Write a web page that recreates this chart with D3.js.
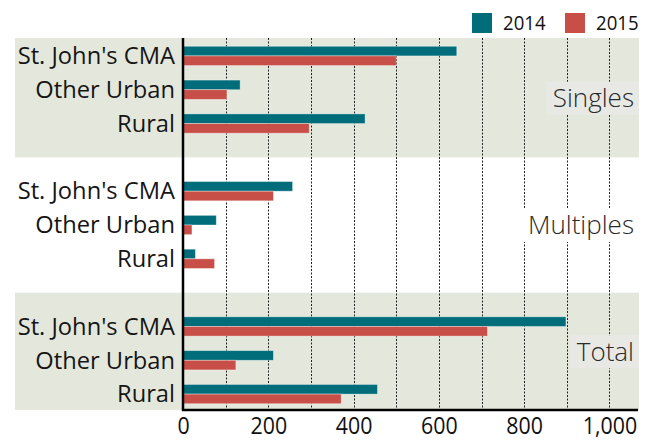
<!DOCTYPE html>
<html><head><meta charset="utf-8">
<script src="https://cdn.jsdelivr.net/npm/d3@7"></script>
<style>
html,body{margin:0;padding:0;background:#fff;}
svg{display:block;font-family:"Open Sans",sans-serif;}
</style></head>
<body>
<svg id="chart" width="655" height="440"></svg>
<script>
const groups = ["Singles", "Multiples", "Total"];
const categories = ["St. John's CMA", "Other Urban", "Rural"];
const years = ["2014", "2015"];
const singles2014 = [642, 134, 427];
const singles2015 = [500, 103, 296];
const multiples2014 = [257, 78, 29];
const multiples2015 = [212, 21, 74];
const total2014 = [898, 212, 456];
const total2015 = [714, 124, 371];
const xTickValues = [0, 200, 400, 600, 800, 1000];
const gridValues = [100, 200, 300, 400, 500, 600, 700, 800, 900, 1000];

const seriesByGroup = {
  "Singles": [singles2014, singles2015],
  "Multiples": [multiples2014, multiples2015],
  "Total": [total2014, total2015]
};
const colors = {"2014": "#016d7b", "2015": "#c84f47"};
const shaded = {"Singles": true, "Multiples": false, "Total": true};

const svg = d3.select("#chart");
const plotLeft = 183, plotRight = 638, plotTop = 39, plotBottom = 411, axisY = 410;

const x = d3.scaleLinear().domain([0, 1067]).range([plotLeft, plotRight]);
const yGroup = d3.scaleBand().domain(groups).range([plotTop, plotBottom]).paddingInner(0.25).paddingOuter(0);
const yCat = d3.scaleBand().domain(categories).range([0, yGroup.bandwidth()]).paddingInner(0.43).paddingOuter(0.215);
const yYear = d3.scaleBand().domain(years).range([0, yCat.bandwidth()]);
const gap = yGroup.step() - yGroup.bandwidth();

function panelExtent(g) {
  let y0 = yGroup(g) - gap / 2, y1 = yGroup(g) + yGroup.bandwidth() + gap / 2;
  y0 = Math.max(y0, plotTop - 1); y1 = Math.min(y1, axisY);
  return [y0, y1];
}
svg.append("g").selectAll("rect").data(groups.filter(g => shaded[g])).join("rect")
  .attr("x", 15).attr("width", plotRight + 1 - 15)
  .attr("y", d => panelExtent(d)[0])
  .attr("height", d => panelExtent(d)[1] - panelExtent(d)[0])
  .attr("fill", "#e4e8dc");

// grid
svg.append("g").selectAll("line").data(gridValues).join("line")
  .attr("x1", d => Math.round(x(d)) + 0.5).attr("x2", d => Math.round(x(d)) + 0.5)
  .attr("y1", plotTop - 1).attr("y2", axisY)
  .attr("stroke", "#222").attr("stroke-width", 1).attr("stroke-dasharray", "2,1.5");

// group labels
const glab = svg.append("g");
groups.forEach(g => {
  let cy;
  if (g === "Multiples") cy = (panelExtent("Singles")[1] + panelExtent("Total")[0]) / 2;
  else { const [y0, y1] = panelExtent(g); cy = (y0 + y1) / 2; }
  const box = glab.append("rect");
  const t = glab.append("text").text(g)
    .attr("x", plotRight - 4).attr("y", cy).attr("dy", "0.36em")
    .attr("text-anchor", "end").attr("font-size", 26).attr("font-weight", 300)
    .attr("fill", "#2a2a2a");
  const w = t.node().getComputedTextLength();
  box.attr("x", plotRight - 4 - w - 6).attr("y", cy - 16).attr("width", w + 11).attr("height", 33)
    .attr("fill", shaded[g] ? "#e8e9e5" : "#fff");
});

// bars
const barG = svg.append("g");
groups.forEach(g => {
  years.forEach((yr, yi) => {
    barG.append("g").selectAll("rect").data(categories).join("rect")
      .attr("x", x(0))
      .attr("y", c => yGroup(g) + yCat(c) + yYear(yr))
      .attr("width", (c, ci) => x(seriesByGroup[g][yi][ci]) - x(0))
      .attr("height", yYear.bandwidth())
      .attr("fill", colors[yr])
      .attr("stroke", "rgba(255,255,255,0.45)").attr("stroke-width", 0.8);
  });
});

// category labels
groups.forEach(g => {
  svg.append("g").selectAll("text").data(categories).join("text")
    .text(d => d)
    .attr("x", 175)
    .attr("y", d => yGroup(g) + yCat(d) + yCat.bandwidth() / 2)
    .attr("dy", "0.35em")
    .attr("text-anchor", "end").attr("font-size", 23.7).attr("fill", "#151515");
});

// axes lines
svg.append("line").attr("x1", plotLeft).attr("x2", plotLeft).attr("y1", plotTop - 1).attr("y2", axisY + 1)
  .attr("stroke", "#000").attr("stroke-width", 2.5);
svg.append("line").attr("x1", plotLeft - 1).attr("x2", plotRight).attr("y1", axisY).attr("y2", axisY)
  .attr("stroke", "#000").attr("stroke-width", 2.5);

// x axis labels
const xAxis = d3.axisBottom(x).tickValues(xTickValues).tickFormat(d3.format(",")).tickSize(0).tickPadding(7);
const ax = svg.append("g").attr("transform", `translate(0,${axisY})`).call(xAxis);
ax.select(".domain").remove();
ax.selectAll("text").attr("font-size", 24).attr("font-family", "'Open Sans',sans-serif").attr("fill", "#111")
  .each(function () {
    const len = this.getComputedTextLength();
    d3.select(this).attr("textLength", len * 0.89).attr("lengthAdjust", "spacingAndGlyphs");
  });

// legend
const leg = svg.append("g");
const legX = d3.scaleOrdinal().domain(years).range([472, 565]);
years.forEach(yr => {
  leg.append("rect").attr("x", legX(yr)).attr("y", 13).attr("width", 20).attr("height", 20).attr("fill", colors[yr]);
  const t = leg.append("text").text(yr).attr("x", legX(yr) + 31).attr("y", 29.5)
    .attr("font-size", 20).attr("fill", "#111");
  const len = t.node().getComputedTextLength();
  t.attr("textLength", len * 0.93).attr("lengthAdjust", "spacingAndGlyphs");
});
</script>
</body></html>
